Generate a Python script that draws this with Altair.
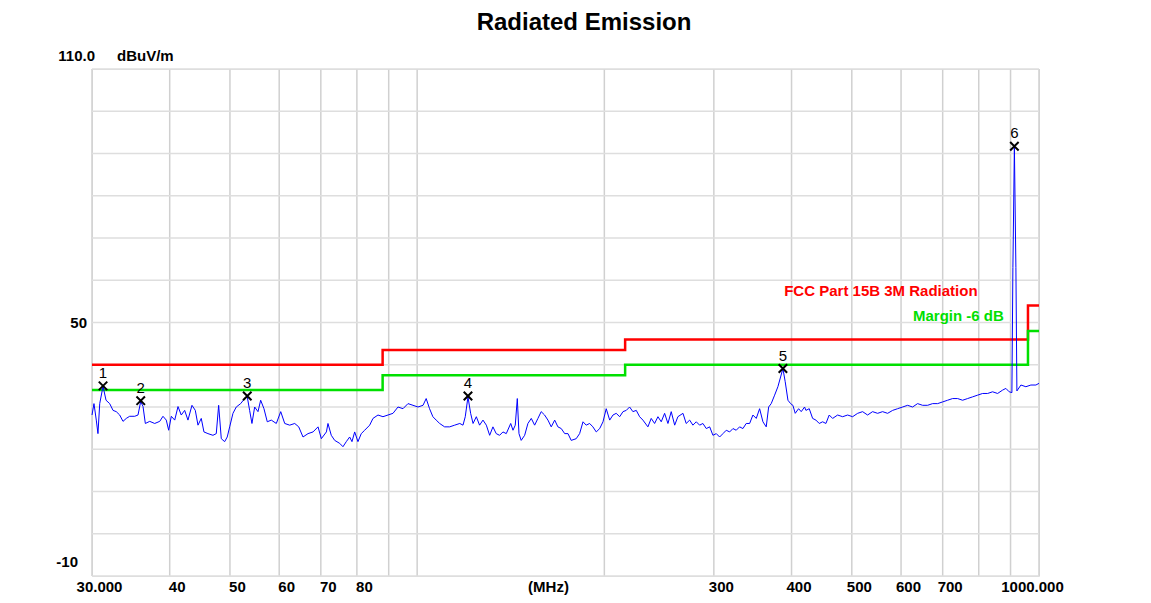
import altair as alt
import pandas as pd

FONT = "Liberation Sans"
TITLE = "Radiated Emission"

# ---- measured trace (MHz, dBuV/m) ----
freq = [30.0, 30.22, 30.48, 30.67, 30.87, 31.25, 31.60, 32.03, 32.43, 32.82, 33.24, 33.65, 34.06, 34.49,
        35.14, 35.57, 35.93, 36.24, 36.55, 37.15, 37.84, 38.55, 39.02, 39.50, 39.85, 40.24, 40.75, 41.25,
        41.75, 42.28, 42.80, 43.44, 43.98, 44.42, 44.96, 45.41, 46.09, 46.95, 47.53, 47.95, 48.42, 49.03,
        49.50, 49.95, 50.56, 51.18, 52.02, 52.80, 53.31, 53.78, 54.24, 54.79, 55.47, 56.02, 56.71, 57.41,
        58.27, 59.36, 60.34, 61.24, 62.38, 63.55, 64.50, 65.53, 66.76, 68.01, 69.28, 70.13, 71.46,
        71.88, 72.76, 73.69, 75.06, 75.98, 76.92, 77.89, 78.56, 79.35, 80.32, 81.31, 82.34, 83.88, 84.91,
        86.50, 88.11, 89.76, 91.44, 93.15, 94.89, 96.66, 98.47, 100.3, 102.2, 103.4, 104.7, 106.0, 107.3,
        108.7, 110.7, 112.8, 114.9, 117.1, 118.5, 119.5, 120.7, 121.9, 123.0, 124.5, 126.0, 127.6, 129.2,
        130.8, 132.4, 134.0, 135.7, 137.4, 139.1, 141.4, 142.6, 143.8, 144.9, 145.8, 147.0, 148.9, 150.7,
        152.6, 154.5, 156.4, 158.3, 160.3, 162.3, 164.3, 166.4, 168.4, 170.5, 172.7,
        174.8, 176.9, 180.2, 182.5, 184.8, 187.0, 189.4, 191.7, 194.1, 196.6, 199.0, 201.4, 204.0, 206.5,
        209.0, 211.7, 214.3, 216.9, 219.6, 222.3, 225.1, 227.9, 230.7, 235.0, 237.9, 240.9, 243.9, 246.9,
        250.0, 253.1, 256.2, 259.5, 262.6, 267.6, 270.8, 274.3, 277.6, 281.1, 284.6, 288.1, 291.7, 295.4,
        299.0, 302.7, 306.5, 310.3, 314.1, 318.1, 322.0, 325.9, 330.0, 334.1, 338.2, 342.5, 346.7, 351.0,
        355.4, 359.8, 364.2, 367.5, 371.0, 375.7, 380.3, 384.1, 387.4, 390.7, 394.7, 398.6, 402.0, 405.5,
        410.6, 414.6, 419.8,
        421.9, 427.1, 432.5, 437.8, 443.2, 448.8, 454.3, 459.9, 465.7, 474.4, 483.3, 492.3, 501.5, 510.9,
        520.4, 530.1, 540.0, 550.1, 560.4, 570.9, 581.6, 592.4, 603.5, 614.8, 626.2, 637.9, 649.9, 662.0,
        674.4, 687.0, 699.8, 712.9, 726.2, 739.8, 753.6, 767.7, 782.0, 796.6, 811.5, 826.7, 842.1, 857.9,
        873.9, 884.6, 895.5, 904.5, 907.9, 912.9, 918.0, 921.4, 935.2, 952.6, 970.4, 988.6, 1000.0]

level = [28.1, 30.8, 26.9, 23.7, 30.8, 34.9, 31.6, 30.8, 29.2, 28.9, 28.1, 26.6, 27.3, 27.8,
         27.8, 28.1, 31.3, 30.1, 26.1, 26.6, 26.1, 26.6, 27.8, 26.9, 24.5, 27.8, 26.9, 30.1,
         28.1, 29.2, 26.9, 30.4, 29.2, 25.7, 27.3, 24.1, 23.7, 23.3, 23.7, 30.4, 22.5, 21.8,
         22.9, 25.3, 28.5, 30.0, 30.8, 32.0, 32.4, 29.2, 26.1, 30.0, 28.9, 31.6, 29.6, 26.5,
         26.9, 26.1, 28.9, 26.1, 25.7, 26.1, 25.3, 22.9, 23.7, 24.1, 25.3, 22.5, 24.1,
         26.1, 23.3, 22.1, 21.4, 20.6, 21.8, 22.9, 21.8, 24.1, 21.8, 23.7, 24.5, 25.7, 27.3,
         28.1, 27.7, 28.1, 28.5, 30.0, 29.6, 30.8, 30.4, 30.0, 30.4, 32.0, 29.6, 27.7, 26.9,
         26.1, 25.3, 25.3, 25.7, 26.1, 25.7, 27.7, 32.4, 28.5, 26.1, 27.7, 25.7, 26.9, 25.7,
         23.3, 25.3, 23.7, 23.3, 24.1, 23.7, 26.1, 24.5, 25.7, 32.0, 23.7, 22.1, 23.3, 26.1,
         27.3, 25.7, 27.3, 28.9, 28.1, 26.9, 25.3, 26.9, 25.3, 24.9, 23.7,
         23.7, 22.1, 22.5, 23.7, 26.5, 25.7, 26.1, 25.3, 24.1, 24.9, 26.5, 29.6, 26.9, 28.1,
         28.5, 27.7, 28.9, 29.2, 30.0, 28.9, 29.2, 27.7, 26.9, 25.3, 27.3, 26.1, 27.7, 26.5,
         28.5, 26.1, 28.9, 25.7, 27.7, 28.5, 26.1, 26.9, 25.7, 26.5, 25.7, 26.1, 24.9, 25.3,
         23.3, 23.7, 22.9, 23.7, 24.5, 24.1, 24.9, 24.5, 25.3, 24.9, 26.1, 26.1, 28.1, 27.3,
         29.6, 26.5, 25.3, 30.0, 30.8, 32.8, 34.8, 37.1, 39.1, 36.0, 31.6, 30.8, 30.4, 28.5,
         29.6, 28.9, 30.0,
         29.2, 29.6, 27.3, 26.9, 26.1, 26.5, 26.1, 28.1, 27.3, 28.1, 27.7, 28.1, 27.7, 28.5,
         28.9, 28.1, 28.9, 28.5, 28.9, 28.5, 29.2, 29.6, 30.0, 30.4, 30.0, 30.8, 30.4, 30.4,
         30.8, 30.8, 31.2, 31.6, 32.0, 32.0, 31.6, 32.0, 32.4, 32.8, 33.2, 33.2, 33.6, 33.2,
         34.0, 34.4, 33.6, 33.4, 63.0, 91.7, 63.0, 33.8, 35.2, 34.8, 35.2, 35.2, 35.6]

# ---- limit lines ----
limit_freq = [30, 88, 216, 960, 1000]
limit_level = [40, 43.5, 46, 54, 54]
margin_level = [34, 37.5, 40, 48, 48]

# ---- peak markers ----
marker_no = ["1", "2", "3", "4", "5", "6"]
marker_freq = [31.25, 35.93, 53.31, 120.7, 387.4, 912.9]
marker_level = [35.0, 31.5, 32.6, 32.6, 39.1, 91.7]

# ---- grid and ticks ----
grid_freq = [30, 40, 50, 60, 70, 80, 90, 100, 200, 300, 400, 500, 600, 700, 800, 900, 1000]
grid_level = [-10, 0, 10, 20, 30, 40, 50, 60, 70, 80, 90, 100, 110]
x_tick_values = [30, 40, 50, 60, 70, 80, 300, 400, 500, 600, 700, 1000]
y_label_values = [110, 50, -10]
y_label_texts = ["110.0", "50", "-10"]

limit_text = "FCC Part 15B 3M Radiation"
margin_text = "Margin -6 dB"

trace = pd.DataFrame({"freq": freq, "level": level})
limits = pd.DataFrame({"freq": limit_freq, "limit": limit_level, "margin": margin_level})
markers = pd.DataFrame({"freq": marker_freq, "level": marker_level, "no": marker_no})
gx = pd.DataFrame({"freq": grid_freq})
gy = pd.DataFrame({"level": grid_level})
ylab = pd.DataFrame({"freq": [30] * len(y_label_values), "level": y_label_values, "txt": y_label_texts})
legend_df = pd.DataFrame({"freq": [796.6, 878.0], "level": [57.5, 51.5], "txt": [limit_text, margin_text]})
title_df = pd.DataFrame({"txt": [TITLE]})

xs = alt.Scale(type="log", domain=[30, 1000], nice=False)
ys = alt.Scale(domain=[-10, 110], nice=False, zero=False)

x_axis = alt.Axis(
    values=x_tick_values,
    labelExpr="datum.value == 30 ? '30.000' : datum.value == 1000 ? '1000.000' : format(datum.value, 'd')",
    grid=False, ticks=False, domain=False,
    labelFont=FONT, labelFontSize=15, labelFontWeight="bold", labelColor="black",
    labelPadding=3, labelFlush=False, labelOverlap=False,
    labelOffset={"condition": {"test": "datum.value == 1000", "value": -7}, "value": 7},
    title="(MHz)", titleX=456, titleY=10, titleBaseline="middle", titleAlign="center",
    titleFont=FONT, titleFontSize=15, titleFontWeight="bold", titleColor="black",
)

X = alt.X("freq:Q", scale=xs, axis=x_axis)

def Y(field):
    return alt.Y(f"{field}:Q", scale=ys, axis=None)

grid_v = alt.Chart(gx).mark_rule(color="#d0d0d0", strokeWidth=1.5).encode(x=X)
grid_h = alt.Chart(gy).mark_rule(color="#dedede", strokeWidth=1.5).encode(y=Y("level"))

red = alt.Chart(limits).mark_line(interpolate="step-after", color="#ff0000", strokeWidth=2.5).encode(
    x=X, y=Y("limit"))
green = alt.Chart(limits).mark_line(interpolate="step-after", color="#00e000", strokeWidth=2.5).encode(
    x=X, y=Y("margin"))

line = alt.Chart(trace).mark_line(color="#0000ff", strokeWidth=1).encode(x=X, y=Y("level"))

xmark = alt.Chart(markers).mark_point(
    shape="M -1 -1 L 1 1 M -1 1 L 1 -1", filled=False, color="black", strokeWidth=2, size=72, opacity=1
).encode(x=X, y=Y("level"))
xnum = alt.Chart(markers).mark_text(font=FONT, fontSize=15, color="black", dy=-13, baseline="middle").encode(
    x=X, y=Y("level"), text="no:N")

leg_red = alt.Chart(legend_df).transform_filter(alt.datum.txt == limit_text).mark_text(
    font=FONT, fontSize=15, fontWeight="bold", color="#ff0000", align="right", baseline="middle"
).encode(x=X, y=Y("level"), text="txt:N")
leg_green = alt.Chart(legend_df).transform_filter(alt.datum.txt == margin_text).mark_text(
    font=FONT, fontSize=15, fontWeight="bold", color="#00e000", align="right", baseline="middle"
).encode(x=X, y=Y("level"), text="txt:N")

ylab_top = alt.Chart(ylab).transform_filter(alt.datum.level == 110).mark_text(
    font=FONT, fontSize=15, fontWeight="bold", color="black", align="right", baseline="middle", dx=3, dy=-13
).encode(x=X, y=Y("level"), text="txt:N")
unit = alt.Chart(ylab).transform_filter(alt.datum.level == 110).mark_text(
    font=FONT, fontSize=15, fontWeight="bold", color="black", align="left", baseline="middle", dx=25, dy=-13
).encode(x=X, y=Y("level"), text=alt.value("dBuV/m"))
ylab_mid = alt.Chart(ylab).transform_filter(alt.datum.level == 50).mark_text(
    font=FONT, fontSize=15, fontWeight="bold", color="black", align="right", baseline="middle", dx=-5
).encode(x=X, y=Y("level"), text="txt:N")
ylab_bot = alt.Chart(ylab).transform_filter(alt.datum.level == -10).mark_text(
    font=FONT, fontSize=15, fontWeight="bold", color="black", align="right", baseline="middle", dx=-14, dy=-14
).encode(x=X, y=Y("level"), text="txt:N")

# chart title, drawn above the plot frame
title = alt.Chart(title_df).mark_text(
    font=FONT, fontSize=24, fontWeight="bold", color="black", align="center", baseline="middle"
).encode(x=alt.value(492), y=alt.value(-46), text="txt:N")

chart = alt.layer(
    grid_v, grid_h, red, green, line, xmark, xnum, leg_red, leg_green, ylab_top, unit, ylab_mid, ylab_bot, title
).properties(
    width=947, height=507,
    autosize=alt.AutoSizeParams(type="none"),
    padding={"left": 84, "top": 61, "right": 104, "bottom": 19},
).configure_view(stroke="#a0a0a0", strokeWidth=2.5).configure(background="white")

chart.save("out.html", embed_options={"renderer": "svg", "actions": False})
